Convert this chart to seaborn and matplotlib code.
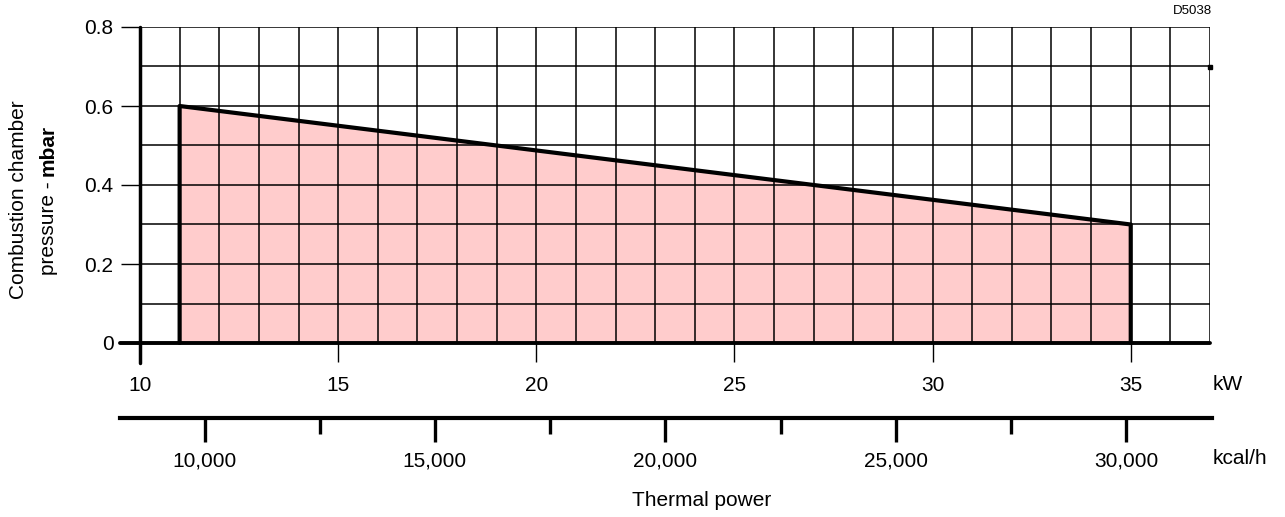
import numpy as np
import seaborn as sns
import matplotlib.pyplot as plt

# Working range outline (kW vs mbar)
kw_outline = [11, 11, 35, 35]
pressure_outline = [0, 0.6, 0.3, 0]
kw_range = [11, 35]
pressure_range = [0.6, 0.3]

# small mark on the right border
mark_kw = [37]
mark_p = [0.7]

kw_ticks = [10, 15, 20, 25, 30, 35]
p_ticks = [0, 0.2, 0.4, 0.6, 0.8]
p_labels = ["0", "0.2", "0.4", "0.6", "0.8"]
kcal_ticks = [10000, 15000, 20000, 25000, 30000]
kcal_labels = ["10,000", "15,000", "20,000", "25,000", "30,000"]
kcal_minor = [12500, 17500, 22500, 27500]
KCAL_PER_KW = 860

sns.set_theme(style="white")
plt.rcParams["font.family"] = ["Liberation Sans", "DejaVu Sans"]
plt.rcParams["text.color"] = "black"
plt.rcParams["xtick.color"] = "black"
plt.rcParams["ytick.color"] = "black"
plt.rcParams["xtick.labelcolor"] = "black"
plt.rcParams["ytick.labelcolor"] = "black"

W, H = 1285, 517
fig = plt.figure(figsize=(W / 100, H / 100), dpi=100)

# main axes: x 140..1210 px, y 27..343 px
ax = fig.add_axes([140 / W, (H - 343) / H, 1070 / W, 316 / H])
xmin, xmax = 10, 37
ax.set_xlim(xmin, xmax)
ax.set_ylim(0, 0.8)

ax.fill_between(kw_range, pressure_range, color="#ffcccc", lw=0, zorder=1)
sns.lineplot(x=kw_outline, y=pressure_outline, sort=False, estimator=None,
             color="black", lw=3, ax=ax, zorder=4, clip_on=False)
ax.plot(mark_kw, mark_p, "s", color="black", ms=3, clip_on=False, zorder=5)

# grid every 1 kW and 0.1 mbar
ax.set_xticks(range(10, 38), minor=True)
ax.set_yticks(np.arange(0, 0.81, 0.1), minor=True)
ax.set_xticks(kw_ticks)
ax.set_yticks(p_ticks)
ax.set_yticklabels(p_labels)
ax.set_axisbelow(False)
ax.grid(which="both", color="black", lw=1.1)
ax.tick_params(which="minor", length=0)
ax.tick_params(axis="x", which="major", direction="out", length=14, width=1,
               color="black", pad=10, labelsize=15, bottom=True)
ax.tick_params(axis="y", which="major", direction="out", length=14, width=1,
               color="black", pad=5, labelsize=15, left=True)
for s in ax.spines.values():
    s.set_visible(False)

# thick left border and zero line
ax.plot([xmin, xmin], [-0.05, 0.8], color="black", lw=2.5, clip_on=False, zorder=5)
px_per_kw = 1070 / (xmax - xmin)
ax.plot([xmin - 20 / px_per_kw, xmax], [0, 0], color="black", lw=2.8,
        clip_on=False, zorder=5)

# kcal/h scale below
left2, right2 = 120, 1212
ax2 = fig.add_axes([left2 / W, (H - 418) / H, (right2 - left2) / W, 0.0001])
k_left = xmin - (140 - left2) / px_per_kw
k_right = xmin + (right2 - 140) / px_per_kw
ax2.set_xlim(k_left * KCAL_PER_KW, k_right * KCAL_PER_KW)
ax2.set_yticks([])
ax2.set_xticks(kcal_ticks)
ax2.set_xticklabels(kcal_labels)
ax2.set_xticks(kcal_minor, minor=True)
for name, s in ax2.spines.items():
    s.set_visible(name == "bottom")
ax2.spines["bottom"].set_linewidth(3)
ax2.spines["bottom"].set_color("black")
ax2.tick_params(axis="x", which="major", direction="out", length=17, width=2.4,
                color="black", pad=7, labelsize=15, bottom=True)
ax2.tick_params(axis="x", which="minor", direction="out", length=11.5, width=2.4,
                color="black", bottom=True)
ax2.patch.set_visible(False)

fig.text(1213 / W, 1 - 385 / H, "kW", fontsize=15, ha="left", va="center")
fig.text(1213 / W, 1 - 458 / H, "kcal/h", fontsize=15, ha="left", va="center")
fig.text(702 / W, 1 - 501 / H, "Thermal power", fontsize=15, ha="center", va="center")
fig.text(1212 / W, 1 - 11 / H, "D5038", fontsize=9.5, ha="right", va="center")

# y label: two rotated lines, second one partly bold
label_cy = H - 200
fig.text(19 / W, label_cy / H, "Combustion chamber", fontsize=15, rotation=90,
         ha="center", va="center")
renderer = fig.canvas.get_renderer()
part1 = fig.text(0, 0, "pressure - ", fontsize=15, rotation=90, ha="center", va="bottom")
part2 = fig.text(0, 0, "mbar", fontsize=15, fontweight="bold", rotation=90,
                 ha="center", va="bottom")
h1 = part1.get_window_extent(renderer).height
h2 = part2.get_window_extent(renderer).height
y0 = label_cy - (h1 + h2) / 2
part1.set_position((48 / W, y0 / H))
part2.set_position((48 / W, (y0 + h1) / H))

fig.savefig("out.png", dpi=100)
